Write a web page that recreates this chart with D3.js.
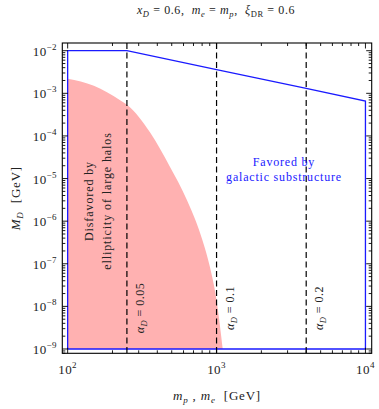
<!DOCTYPE html>
<html>
<head>
<meta charset="utf-8">
<script src="https://cdn.jsdelivr.net/npm/d3@7"></script>
<style>
  body { margin: 0; background: #fff; }
  text { font-family: "Liberation Serif", "DejaVu Serif", serif; fill: #222; white-space: pre; }
</style>
</head>
<body>
<div id="chart"></div>
<script>
// data
var alphaLabels = ["0.05", "0.1", "0.2"];
var alphaMass = [250, 1000, 4000];

// upper edge of the favored region (m in GeV, M_D in GeV)
var favMass = [100, 250, 1000, 4000, 10000];
var favMD = [1e-2, 1e-2, 3.6e-3, 1.3e-3, 6.6e-4];
var favBottom = 1e-9;

// edge of the disfavored (pink) region
var disMass = [100, 150, 225, 254, 358, 486, 631, 773, 902, 1000, 1100];
var disMD = [2.2e-3, 1.5e-3, 6.9e-4, 5.2e-4, 1.2e-4, 1.9e-5, 3.2e-6, 5.4e-7, 8.5e-8, 1.4e-8, 1.0e-9];

var xMajor = [100, 1000, 10000];
var xMajorExp = ["2", "3", "4"];
var yMajor = [1e-2, 1e-3, 1e-4, 1e-5, 1e-6, 1e-7, 1e-8, 1e-9];
var yMajorExp = ["\u22122", "\u22123", "\u22124", "\u22125", "\u22126", "\u22127", "\u22128", "\u22129"];

var W = 379, H = 409;
var frame = {left: 62.3, right: 371.7, top: 43, bottom: 353.3};

var svg = d3.select("#chart").append("svg")
    .attr("width", W)
    .attr("height", H);

var x = d3.scaleLog()
    .domain([Math.pow(10, 1.964), Math.pow(10, 4.042)])
    .range([frame.left, frame.right]);
var y = d3.scaleLog()
    .domain([Math.pow(10, -9.101), Math.pow(10, -1.819)])
    .range([frame.bottom, frame.top]);

// pink disfavored area
var disPts = disMass.map(function(m, i) { return [m, disMD[i]]; });
var area = d3.area()
    .x(function(d) { return x(d[0]); })
    .y0(y(favBottom))
    .y1(function(d) { return y(d[1]); })
    .curve(d3.curveMonotoneX);
svg.append("path")
    .datum(disPts)
    .attr("d", area)
    .attr("fill", "#ffb1b1");

// favored region outline
var favPts = [[favMass[0], favBottom]];
favMass.forEach(function(m, i) { favPts.push([m, favMD[i]]); });
favPts.push([favMass[favMass.length - 1], favBottom]);
favPts.push([favMass[0], favBottom]);
svg.append("path")
    .datum(favPts)
    .attr("d", d3.line().x(function(d) { return x(d[0]); }).y(function(d) { return y(d[1]); }))
    .attr("fill", "none")
    .attr("stroke", "#1a1aff")
    .attr("stroke-width", 1.3);

// dashed alpha_D lines
svg.selectAll(".aline")
    .data(alphaMass)
    .enter().append("line")
    .attr("class", "aline")
    .attr("x1", function(d) { return x(d); })
    .attr("x2", function(d) { return x(d); })
    .attr("y1", frame.top)
    .attr("y2", frame.bottom)
    .attr("stroke", "#000")
    .attr("stroke-width", 1.2)
    .attr("stroke-dasharray", "6,3.5");

// alpha_D labels
alphaMass.forEach(function(m, i) {
  var t = svg.append("text")
      .attr("transform", "translate(" + (x(m) + 17) + ",308) rotate(-90)")
      .attr("text-anchor", "middle")
      .attr("font-size", "12px")
      .attr("letter-spacing", "0.5px");
  t.append("tspan").attr("font-style", "italic").text("\u03b1");
  t.append("tspan").attr("font-style", "italic").attr("font-size", "8.5px").attr("dy", 3).text("D");
  t.append("tspan").attr("dy", -3).text(" = " + alphaLabels[i]);
});

// frame
svg.append("rect")
    .attr("x", frame.left)
    .attr("y", frame.top)
    .attr("width", frame.right - frame.left)
    .attr("height", frame.bottom - frame.top)
    .attr("fill", "none")
    .attr("stroke", "#000")
    .attr("stroke-width", 1.1);

// ticks
function minorTicks(scale, e0, e1) {
  var out = [];
  var dom = scale.domain();
  for (var e = e0; e <= e1; e++) {
    for (var k = 2; k <= 9; k++) {
      var v = k * Math.pow(10, e);
      if (v > dom[0] && v < dom[1]) out.push(v);
    }
  }
  return out;
}
var xMinor = minorTicks(x, 1, 3);
var yMinor = minorTicks(y, -10, -2);

var tickG = svg.append("g").attr("stroke", "#000").attr("stroke-width", 0.9);
function xTicks(vals, len) {
  vals.forEach(function(v) {
    tickG.append("line").attr("x1", x(v)).attr("x2", x(v))
      .attr("y1", frame.bottom).attr("y2", frame.bottom - len);
    tickG.append("line").attr("x1", x(v)).attr("x2", x(v))
      .attr("y1", frame.top).attr("y2", frame.top + len);
  });
}
function yTicks(vals, len) {
  vals.forEach(function(v) {
    tickG.append("line").attr("y1", y(v)).attr("y2", y(v))
      .attr("x1", frame.left).attr("x2", frame.left + len);
    tickG.append("line").attr("y1", y(v)).attr("y2", y(v))
      .attr("x1", frame.right).attr("x2", frame.right - len);
  });
}
xTicks(xMajor, 5.5);
xTicks(xMinor, 3);
yTicks(yMajor, 5.5);
yTicks(yMinor, 3);

// tick labels
xMajor.forEach(function(v, i) {
  var t = svg.append("text")
      .attr("x", x(v))
      .attr("y", 374)
      .attr("text-anchor", "middle")
      .attr("font-size", "13px")
      .attr("letter-spacing", "0.4px");
  t.append("tspan").text("10");
  t.append("tspan").attr("font-size", "9px").attr("dy", -6).text(xMajorExp[i]);
});
yMajor.forEach(function(v, i) {
  var t = svg.append("text")
      .attr("x", 57)
      .attr("y", y(v) + 5)
      .attr("text-anchor", "end")
      .attr("font-size", "13px")
      .attr("letter-spacing", "0.4px");
  t.append("tspan").text("10");
  t.append("tspan").attr("font-size", "9px").attr("dy", -6).text(yMajorExp[i]);
});

// axis titles
var xl = svg.append("text")
    .attr("x", (frame.left + frame.right) / 2)
    .attr("y", 400)
    .attr("text-anchor", "middle")
    .attr("font-size", "13px")
    .attr("letter-spacing", "0.8px");
xl.append("tspan").attr("font-style", "italic").text("m");
xl.append("tspan").attr("font-style", "italic").attr("font-size", "9px").attr("dy", 3).text("p");
xl.append("tspan").attr("dy", -3).text(" , ");
xl.append("tspan").attr("font-style", "italic").text("m");
xl.append("tspan").attr("font-style", "italic").attr("font-size", "9px").attr("dy", 3).text("e");
xl.append("tspan").attr("dy", -3).text("  [GeV]");

var yl = svg.append("text")
    .attr("transform", "translate(20," + ((frame.top + frame.bottom) / 2) + ") rotate(-90)")
    .attr("text-anchor", "middle")
    .attr("font-size", "13px")
    .attr("letter-spacing", "0.8px");
yl.append("tspan").attr("font-style", "italic").text("M");
yl.append("tspan").attr("font-style", "italic").attr("font-size", "9px").attr("dy", 3).text("D");
yl.append("tspan").attr("dy", -3).text("  [GeV]");

// title
var tt = svg.append("text")
    .attr("x", 216)
    .attr("y", 14)
    .attr("text-anchor", "middle")
    .attr("font-size", "12px")
    .attr("letter-spacing", "0.6px");
tt.append("tspan").attr("font-style", "italic").text("x");
tt.append("tspan").attr("font-style", "italic").attr("font-size", "8.5px").attr("dy", 3).text("D");
tt.append("tspan").attr("dy", -3).text(" = 0.6,  ");
tt.append("tspan").attr("font-style", "italic").text("m");
tt.append("tspan").attr("font-style", "italic").attr("font-size", "8.5px").attr("dy", 3).text("e");
tt.append("tspan").attr("dy", -3).text(" = ");
tt.append("tspan").attr("font-style", "italic").text("m");
tt.append("tspan").attr("font-style", "italic").attr("font-size", "8.5px").attr("dy", 3).text("p");
tt.append("tspan").attr("dy", -3).text(",  ");
tt.append("tspan").attr("font-style", "italic").text("\u03be");
tt.append("tspan").attr("font-size", "8.5px").attr("dy", 3).text("DR");
tt.append("tspan").attr("dy", -3).text(" = 0.6");

// region labels
var dis = svg.append("text")
    .attr("transform", "translate(0,201) rotate(-90)")
    .attr("text-anchor", "middle")
    .attr("font-size", "12px")
    .attr("letter-spacing", "0.9px");
dis.append("tspan").attr("x", 0).attr("y", 93).text("Disfavored by");
dis.append("tspan").attr("x", 0).attr("y", 111).text("ellipticity of large halos");

var fav = svg.append("text")
    .attr("text-anchor", "middle")
    .attr("font-size", "12px")
    .attr("letter-spacing", "0.8px")
    .style("fill", "#1a1aff");
fav.append("tspan").attr("x", 284).attr("y", 166).text("Favored by");
fav.append("tspan").attr("x", 284).attr("y", 181).text("galactic substructure");
</script>
</body>
</html>
